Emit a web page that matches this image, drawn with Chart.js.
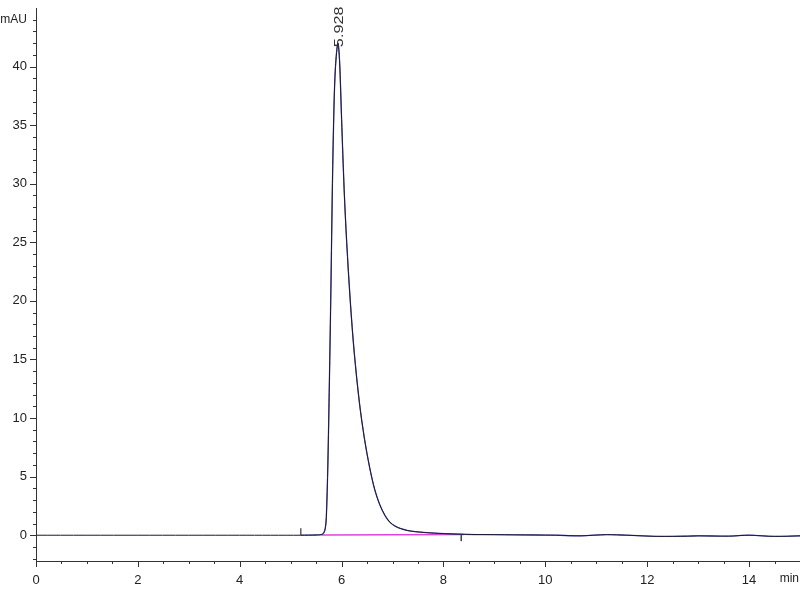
<!DOCTYPE html>
<html>
<head>
<meta charset="utf-8">
<script src="https://cdn.jsdelivr.net/npm/chart.js@4"></script>
<style>
  html, body { margin: 0; padding: 0; background: #fff; }
  #wrap { width: 800px; height: 600px; }
</style>
</head>
<body>
<div id="wrap"><canvas id="chromChart"></canvas></div>
<script>
// retention time (min) and signal (mAU)
const timeMin = [0, 2, 4, 5.2, 5.5, 5.6, 5.65, 5.68, 5.7, 5.73, 5.76, 5.79, 5.82, 5.85, 5.88, 5.928, 5.96, 6.0, 6.05, 6.1, 6.17, 6.25, 6.35, 6.45, 6.55, 6.65, 6.75, 6.85, 6.95, 7.05, 7.15, 7.3, 7.45, 7.6, 7.9, 8.4, 9.0, 9.8, 10.2, 10.7, 11.2, 11.6, 12.2, 12.8, 13.0, 13.6, 14.0, 14.5, 15.0];
const signal  = [0, 0, 0, 0, 0.02, 0.05, 0.2, 0.6, 1.5, 6, 13, 21, 30, 36.5, 40, 42, 40.5, 35.5, 29.5, 25, 20, 15.5, 11.3, 8.2, 5.8, 3.9, 2.6, 1.7, 1.1, 0.78, 0.58, 0.4, 0.3, 0.24, 0.16, 0.08, 0.05, 0.02, 0.0, -0.05, 0.05, 0.0, -0.1, -0.08, -0.05, -0.08, 0.0, -0.1, -0.05];

// integration baseline under the peak
const baseTime = [5.6, 8.4];
const baseVal = [0.02, 0.06];

// peak annotation and event markers
const peakLabel = '5.928';
const peakTime = 5.928;
const peakHeight = 42;
const markerA = { t: 5.2, from: 0, to: 0.6 };
const markerB = { t: 8.35, from: 0.08, to: -0.5 };

const yTicks = [-2, -1, 0, 1, 2, 3, 4, 5, 6, 7, 8, 9, 10, 11, 12, 13, 14, 15, 16, 17, 18, 19, 20, 21, 22, 23, 24, 25, 26, 27, 28, 29, 30, 31, 32, 33, 34, 35, 36, 37, 38, 39, 40, 41, 42, 43, 44];
const xTicks = [0, 0.5, 1, 1.5, 2, 2.5, 3, 3.5, 4, 4.5, 5, 5.5, 6, 6.5, 7, 7.5, 8, 8.5, 9, 9.5, 10, 10.5, 11, 11.5, 12, 12.5, 13, 13.5, 14, 14.5];

const trace = timeMin.map((t, i) => ({ x: t, y: signal[i] }));
const blueTrace = trace.filter(p => p.x >= 5.2);

// drop the label overhang padding so the plot area is exact
function noPad(s) {
  s.paddingTop = 0;
  s.paddingBottom = 0;
  s.paddingLeft = 0;
  s.paddingRight = 0;
}

// axes, ticks and the annotation texts
const axisPlugin = {
  id: 'axisPlugin',
  afterDraw(chart) {
    const ctx = chart.ctx;
    const xs = chart.scales.x, ys = chart.scales.y;
    const area = chart.chartArea;
    ctx.save();
    ctx.strokeStyle = '#333';
    ctx.lineWidth = 1;
    ctx.beginPath();
    ctx.moveTo(area.left + 0.5, area.top);
    ctx.lineTo(area.left + 0.5, area.bottom + 0.5);
    ctx.lineTo(area.right, area.bottom + 0.5);
    yTicks.forEach(v => {
      const y = Math.round(ys.getPixelForValue(v)) + 0.5;
      const len = v % 5 === 0 ? 6 : 3;
      ctx.moveTo(area.left - len, y);
      ctx.lineTo(area.left, y);
    });
    xTicks.forEach(v => {
      const x = Math.round(xs.getPixelForValue(v)) + 0.5;
      const len = v % 2 === 0 ? 6 : 3;
      ctx.moveTo(x, area.bottom);
      ctx.lineTo(x, area.bottom + len);
    });
    ctx.stroke();

    ctx.fillStyle = '#222';
    ctx.font = '12px "Liberation Sans", Arial, sans-serif';
    ctx.textAlign = 'right';
    ctx.textBaseline = 'middle';
    ctx.fillText('mAU', area.left - 9, ys.getPixelForValue(44));
    ctx.fillText('min', area.right - 1, area.bottom + 18);

    // peak label, rotated
    ctx.save();
    ctx.translate(xs.getPixelForValue(peakTime) + 1, ys.getPixelForValue(peakHeight) + 4);
    ctx.rotate(-Math.PI / 2);
    ctx.scale(1.25, 1);
    ctx.font = '13px "Liberation Sans", Arial, sans-serif';
    ctx.textAlign = 'left';
    ctx.textBaseline = 'middle';
    ctx.fillStyle = '#333';
    ctx.fillText(peakLabel, 0, 0);
    ctx.restore();
    ctx.restore();
  }
};

new Chart(document.getElementById('chromChart').getContext('2d'), {
  type: 'line',
  data: {
    datasets: [
      {
        label: 'signal',
        data: trace,
        borderColor: '#1a1a2a',
        borderWidth: 1,
        pointRadius: 0,
        tension: 0.3,
        fill: false
      },
      {
        label: 'signal overlay',
        data: blueTrace,
        borderColor: 'rgba(65, 65, 190, 0.85)',
        borderWidth: 1.3,
        pointRadius: 0,
        tension: 0.3,
        fill: false
      },
      {
        label: 'baseline',
        data: baseTime.map((t, i) => ({ x: t, y: baseVal[i] })),
        borderColor: '#dd44dd',
        borderWidth: 1.5,
        pointRadius: 0,
        fill: false
      },
      {
        label: 'event A',
        data: [{ x: markerA.t, y: markerA.from }, { x: markerA.t, y: markerA.to }],
        borderColor: '#111',
        borderWidth: 1,
        pointRadius: 0
      },
      {
        label: 'event B',
        data: [{ x: markerB.t, y: markerB.from }, { x: markerB.t, y: markerB.to }],
        borderColor: '#444',
        borderWidth: 1,
        pointRadius: 0
      }
    ]
  },
  options: {
    responsive: true,
    maintainAspectRatio: false,
    animation: false,
    layout: { padding: { top: 8, right: 0, left: 0, bottom: 0 } },
    plugins: {
      legend: { display: false },
      tooltip: { enabled: false }
    },
    scales: {
      x: {
        type: 'linear',
        min: 0,
        max: 15,
        grid: { display: false, drawTicks: false },
        border: { display: false },
        afterFit: s => { s.height = 39; noPad(s); },
        ticks: {
          stepSize: 0.5,
          autoSkip: false,
          maxRotation: 0,
          padding: 12,
          color: '#222',
          font: { family: '"Liberation Sans", Arial, sans-serif', size: 13 },
          callback: v => (v % 2 === 0 ? String(v) : '')
        }
      },
      y: {
        type: 'linear',
        min: -2.2,
        max: 45,
        grid: { display: false, drawTicks: false },
        border: { display: false },
        afterFit: s => { s.width = 36; noPad(s); },
        ticks: {
          stepSize: 1,
          autoSkip: false,
          padding: 9,
          color: '#222',
          font: { family: '"Liberation Sans", Arial, sans-serif', size: 13 },
          callback: v => (v % 5 === 0 && v >= 0 && v <= 40 ? String(v) : '')
        }
      }
    }
  },
  plugins: [axisPlugin]
});
</script>
</body>
</html>
